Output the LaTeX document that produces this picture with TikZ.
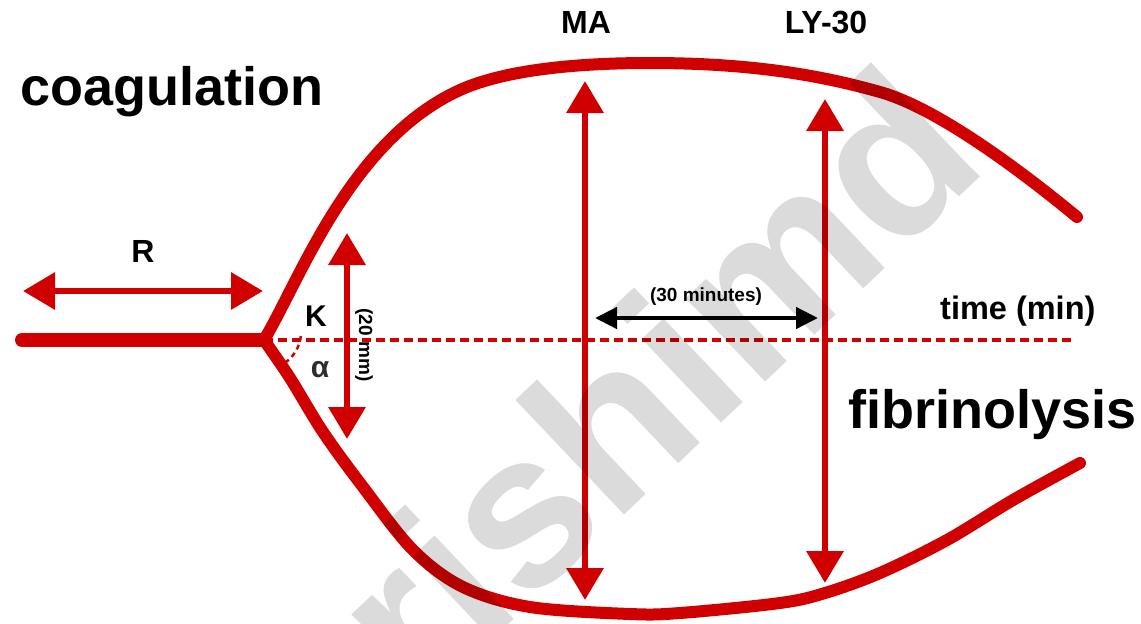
\documentclass[tikz,border=0pt]{standalone}
\usepackage{fontspec}
\setmainfont{Liberation Sans}
\usetikzlibrary{arrows.meta}
\definecolor{tegred}{RGB}{208,0,0}
\begin{document}
\begin{tikzpicture}[x=1pt,y=-1pt,
  curve/.style={draw=tegred, line width=12pt, line cap=round, line join=round},
  basecurve/.style={draw=tegred, line width=14pt, line cap=round},
  dashline/.style={draw=tegred, line width=3.5pt, dash pattern=on 9pt off 5pt},
  redarrow/.style={draw=tegred, line width=6.5pt, {Triangle[length=32pt,width=36pt]}-{Triangle[length=32pt,width=36pt]}},
  blackarrow/.style={draw=black, line width=4.5pt, {Triangle[length=22pt,width=21pt]}-{Triangle[length=22pt,width=21pt]}},
  lbl/.style={inner sep=0pt, anchor=base, font=\bfseries\fontsize{32}{32}\selectfont},
  biglbl/.style={inner sep=0pt, anchor=base west, font=\bfseries\fontsize{54}{54}\selectfont},
  smalllbl/.style={inner sep=0pt, anchor=base, font=\bfseries\fontsize{19}{19}\selectfont},
  wmark/.style={inner sep=0pt, anchor=base, text=black, text opacity=0.14, font=\bfseries\fontsize{218}{218}\selectfont}
]
\useasboundingbox (0,0) rectangle (1141,624);

% coordinates
\coordinate (start) at (22,340);
\coordinate (apex) at (264,340);
\coordinate (dashend) at (1075,340);

% baseline and dashed time axis
\draw[dashline] (apex) -- (dashend);
\draw[basecurve] (start) -- (apex);

% upper (coagulation) curve
\draw[curve] (apex) .. controls (300,280) and (350,140) .. (460,90)
  .. controls (510,67.5) and (590,63) .. (650,63)
  .. controls (750,63) and (820,75) .. (880,92)
  .. controls (937,108) and (1020,170) .. (1077,217);
% lower (fibrinolysis) curve
\draw[curve] plot[smooth, tension=0.55] coordinates {(264,340) (290,378) (323,432) (363,487) (413,550) (463,587) (530,607) (630,614) (680,613) (780,603) (825,593) (880,573) (947,540) (1013,500) (1080,463)};

% alpha arc
\draw[tegred, line width=2.5pt, dash pattern=on 5pt off 4pt] ([shift={(-6:37)}]apex) arc[start angle=6, end angle=56, radius=37];

% R arrow
\coordinate (r1) at (23,291);
\coordinate (r2) at (263,291);
\draw[redarrow] (r1) -- (r2);
\node[lbl] (R) at (143,262) {R};

% K arrow
\coordinate (k1) at (347,233);
\coordinate (k2) at (347,439);
\draw[redarrow] (k1) -- (k2);
\node[lbl, font=\bfseries\fontsize{30}{30}\selectfont] (K) at (316,326) {K};
\node[lbl, font=\bfseries\fontsize{30}{30}\selectfont, text={rgb,255:red,45;green,45;blue,45}] (alpha) at (320,377) {α};
\node[inner sep=0pt, rotate=-90, font=\bfseries\fontsize{19}{19}\selectfont] (mm) at (364,345) {(20 mm)};

% MA arrow
\coordinate (ma1) at (585,81);
\coordinate (ma2) at (585,600);
\draw[redarrow] (ma1) -- (ma2);
\node[lbl] (MA) at (586,33) {MA};

% LY-30 arrow
\coordinate (ly1) at (825,99);
\coordinate (ly2) at (825,583);
\draw[redarrow] (ly1) -- (ly2);
\node[lbl] (LY) at (826,33) {LY-30};

% 30 minutes arrow
\coordinate (m1) at (595,318);
\coordinate (m2) at (818,318);
\draw[blackarrow] (m1) -- (m2);
\node[smalllbl] (min30) at (706,301) {(30 minutes)};

% text labels
\node[lbl, anchor=base west, font=\bfseries\fontsize{32.5}{32.5}\selectfont] (time) at (940,319) {time (min)};
\node[biglbl] (coag) at (20,105) {coagulation};
\node[biglbl] (fib) at (848,428) {fibrinolysis};

% watermark
\node[wmark, rotate=43.5] (wm) at (706,438) {rishimd};
\end{tikzpicture}
\end{document}
